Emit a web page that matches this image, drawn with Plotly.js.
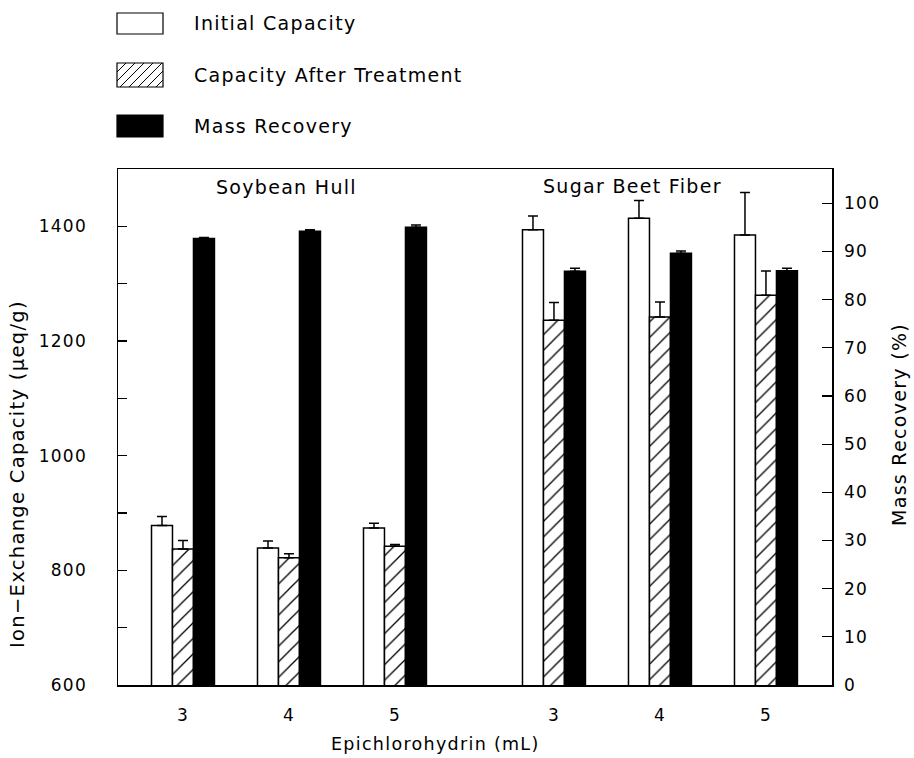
<!DOCTYPE html>
<html>
<head>
<meta charset="utf-8">
<script src="https://cdn.plot.ly/plotly-3.0.1.min.js"></script>
<style>
html,body{margin:0;padding:0;background:#fff;}
#chart{width:914px;height:758px;}
text{letter-spacing:1.3px;}
</style>
</head>
<body>
<div id="chart"></div>
<script>
// ---- data ----
const categories = ['3', '4', '5', '3', '4', '5'];
const groupNames = ['Soybean Hull', 'Sugar Beet Fiber'];
const seriesNames = ['Initial Capacity', 'Capacity After Treatment', 'Mass Recovery'];
const xTitle = 'Epichlorohydrin (mL)';
const yTitle = 'Ion−Exchange Capacity (μeq/g)';
const y2Title = 'Mass Recovery (%)';
const initialCapacity = [878, 839, 874, 1394, 1414, 1385];
const initialErr = [16, 12, 8, 24, 31, 74];
const afterTreatment = [837, 822, 842, 1236, 1242, 1280];
const afterErr = [15, 7, 3, 31, 26, 42];
const massRecovery = [92.7, 94.2, 95.0, 85.9, 89.6, 86.0];
const massErr = [0.2, 0.3, 0.5, 0.6, 0.5, 0.5];

// ---- layout helpers ----
const FONT = 'DejaVu Sans, Liberation Sans, sans-serif';
const W = 914, H = 758;
const PL = 118, PR = 832, PT = 169, PB = 685;
const xs = categories.map((c, i) => i + (i >= 3 ? 0.5 : 0));
const bw = 0.198;
const zeros = categories.map(() => 0);

function errY(arr) {
  return {type: 'data', symmetric: false, array: arr, arrayminus: zeros,
          color: '#000', thickness: 1.5, width: 5, visible: true};
}

const traces = [
  {type: 'bar', name: seriesNames[0], x: xs, y: initialCapacity, yaxis: 'y',
   width: bw, offset: -1.5 * bw,
   marker: {color: '#fff', line: {color: '#000', width: 1.5}},
   error_y: errY(initialErr), showlegend: false},
  {type: 'bar', name: seriesNames[1], x: xs, y: afterTreatment, yaxis: 'y',
   width: bw, offset: -0.5 * bw,
   marker: {color: '#fff', line: {color: '#000', width: 1.5},
            pattern: {shape: '/', fgcolor: '#000', bgcolor: '#fff', size: 11, solidity: 0.12}},
   error_y: errY(afterErr), showlegend: false},
  {type: 'bar', name: seriesNames[2], x: xs, y: massRecovery, yaxis: 'y2',
   width: bw, offset: 0.5 * bw,
   marker: {color: '#000', line: {color: '#000', width: 1.5}},
   error_y: errY(massErr), showlegend: false}
];

// pixel -> paper converters
const px = v => (v - PL) / (PR - PL);
const py = v => (PB - v) / (PB - PT);

const shapes = [];
const annotations = [];

// manual legend
const legX0 = 117, legX1 = 163;
const legRows = [[13, 34], [63, 87], [115, 137]];
legRows.forEach((r, i) => {
  const fill = i === 2 ? '#000' : '#fff';
  shapes.push({type: 'rect', xref: 'paper', yref: 'paper',
    x0: px(legX0), x1: px(legX1), y0: py(r[1]), y1: py(r[0]),
    line: {color: '#000', width: 1.2}, fillcolor: fill});
  annotations.push({xref: 'paper', yref: 'paper', x: px(192), y: py((r[0] + r[1]) / 2),
    xanchor: 'left', yanchor: 'middle', showarrow: false, text: seriesNames[i],
    font: {family: FONT, size: 19, color: '#000'}});
});
// hatch lines for legend swatch 2
(function () {
  const x0 = legX0, x1 = legX1, y0 = legRows[1][0], y1 = legRows[1][1];
  const h = y1 - y0;
  let d = '';
  for (let k = -h; k < (x1 - x0); k += 9) {
    let ax = x0 + k, ay = y1, bx = x0 + k + h, by = y0;
    if (ax < x0) { ay = y1 - (x0 - ax); ax = x0; }
    if (bx > x1) { by = y0 + (bx - x1); bx = x1; }
    if (ax >= bx) continue;
    d += `M${px(ax)},${py(ay)}L${px(bx)},${py(by)}`;
  }
  shapes.push({type: 'path', xref: 'paper', yref: 'paper', path: d, line: {color: '#000', width: 1}});
})();

// group labels
annotations.push({xref: 'paper', yref: 'paper', x: px(286), y: py(187), xanchor: 'center', yanchor: 'middle',
  showarrow: false, text: groupNames[0], font: {family: FONT, size: 19, color: '#000'}});
annotations.push({xref: 'paper', yref: 'paper', x: px(632), y: py(186), xanchor: 'center', yanchor: 'middle',
  showarrow: false, text: groupNames[1], font: {family: FONT, size: 19, color: '#000'}});

// axis titles (as annotations to match the original positions)
annotations.push({xref: 'paper', yref: 'paper', x: px(435), y: py(744), xanchor: 'center', yanchor: 'middle',
  showarrow: false, text: xTitle, font: {family: FONT, size: 17.5, color: '#000'}});
annotations.push({xref: 'paper', yref: 'paper', x: px(18), y: py(474), xanchor: 'center', yanchor: 'middle',
  showarrow: false, textangle: -90, text: yTitle, font: {family: FONT, size: 19.5, color: '#000'}});
annotations.push({xref: 'paper', yref: 'paper', x: px(899), y: py(425), xanchor: 'center', yanchor: 'middle',
  showarrow: false, textangle: -90, text: y2Title, font: {family: FONT, size: 19, color: '#000'}});

const tickFont = {family: FONT, size: 17, color: '#000'};

const layout = {
  width: W, height: H,
  margin: {l: PL, r: W - PR, t: PT, b: H - PB, pad: 0},
  paper_bgcolor: '#fff', plot_bgcolor: '#fff',
  showlegend: false,
  barmode: 'overlay',
  xaxis: {
    range: [-0.613, 6.123], tickvals: xs, ticktext: categories, ticks: '',
    showline: true, mirror: true, linecolor: '#000', linewidth: 1.5,
    showgrid: false, zeroline: false, tickfont: tickFont, ticklabelstandoff: 14
  },
  yaxis: {
    range: [600, 1500], tick0: 600, dtick: 200, ticks: 'inside', ticklen: 9, tickwidth: 1.2,
    tickcolor: '#000',
    minor: {dtick: 100, tick0: 600, ticks: 'inside', ticklen: 9, tickwidth: 1.2, tickcolor: '#000', showgrid: false},
    showline: true, mirror: true, linecolor: '#000', linewidth: 1.5,
    showgrid: false, zeroline: false, tickfont: tickFont, ticklabelstandoff: 26
  },
  yaxis2: {
    overlaying: 'y', side: 'right', anchor: 'x',
    range: [0, 107.1], tick0: 0, dtick: 10, ticks: 'inside', ticklen: 10, tickwidth: 1.2, tickcolor: '#000',
    showline: false, showgrid: false, zeroline: false, tickfont: tickFont, ticklabelstandoff: 11
  },
  shapes: shapes,
  annotations: annotations
};

Plotly.newPlot('chart', traces, layout, {staticPlot: true, displayModeBar: false});
</script>
</body>
</html>
